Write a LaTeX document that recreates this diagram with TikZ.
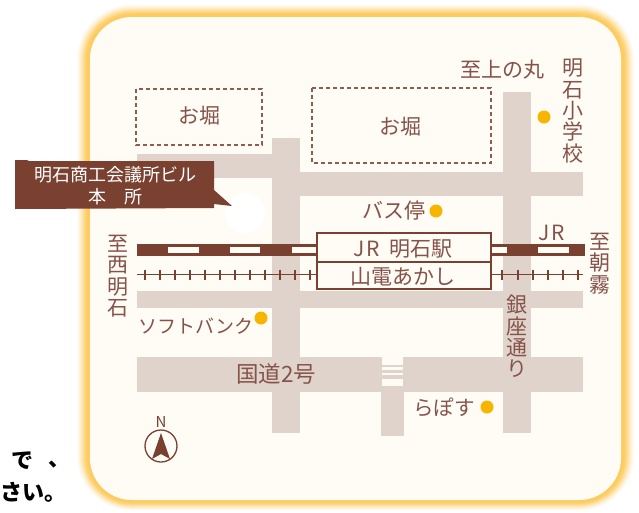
\documentclass[tikz,border=0pt]{standalone}
\usepackage{fontspec}
\setmainfont{Noto Sans CJK JP}
\definecolor{road}{HTML}{E0D3CB}
\definecolor{cream}{HTML}{FFFCF5}
\definecolor{brn}{HTML}{7A4030}
\definecolor{txt}{HTML}{85534A}
\definecolor{gold}{HTML}{FDCB5E}
\definecolor{dot}{HTML}{F8B500}
\tikzset{
  x=1pt,y=-1pt,
  lbl/.style={text=txt,inner sep=0pt,font=\fontsize{#1}{#1}\selectfont},
  lbl/.default=21,
  vlbl/.style={text=txt,inner sep=0pt,align=center,font=\fontsize{21}{21.3}\selectfont},
  spot/.style={circle,fill=dot,minimum size=13pt,inner sep=0pt},
  pond/.style={draw=brn!85,line width=1.6pt,dash pattern=on 4pt off 3pt},
  stn/.style={draw=brn,line width=2pt,fill=cream},
  railthick/.style={fill=brn},
  railgap/.style={fill=cream},
  tie/.style={draw=brn,line width=1.3pt},
  black text/.style={text=black,inner sep=0pt,font=\fontsize{22}{22}\selectfont\bfseries}
}
\begin{document}
\begin{tikzpicture}
\useasboundingbox (0,0) rectangle (639,512);
\fill[white] (0,0) rectangle (639,512);
% card glow
\foreach \o/\c in {13/6,12/14,11/22,10/30,9/40,8/52,7/64,6/74,5/84,4/92,3/97,2/100,1/100}{
  \fill[gold!\c!white,rounded corners={42pt+\o pt}] (90-\o,17-\o*0.95) rectangle (621+\o,500+\o*0.8);
}
\fill[cream,rounded corners=42pt] (90,17) rectangle (621,500);
% roads
\fill[road] (137,154) rectangle (272,178);
\fill[road] (300,172) rectangle (583,196);
\fill[road] (272,138) rectangle (300,433);
\fill[road] (503,92) rectangle (531,433);
\fill[road] (137,291) rectangle (583,308);
\fill[road] (137,357) rectangle (382,392);
\fill[road] (403,357) rectangle (583,392);
\fill[road] (381,386) rectangle (404,436);
% crosswalk
\fill[road] (382,365) rectangle (403,367);
\fill[road] (382,370) rectangle (403,372.5);
\fill[road] (382,375) rectangle (403,379);
\fill[white] (245,213) circle (20);
% ponds
\draw[pond] (136,89) rectangle (262,145);
\draw[pond] (312,88) rectangle (491,163);
\node[lbl] (p1) at (199,116) {お堀};
\node[lbl] (p2) at (400,127) {お堀};
% JR rails
\fill[railthick] (137,243.5) rectangle (317,256);
\fill[railthick] (491,243.5) rectangle (585,256);
\foreach \a/\b in {168/199,230/260,292/316,491/507,538/569}{\fill[railgap] (\a,247) rectangle (\b,253);}
% Sanyo rails
\draw[tie] (137,274.5) -- (317,274.5);
\draw[tie] (491,274.5) -- (583,274.5);
\foreach \t in {145,160,175,190,205,220,235,250,265,280,295,310,502,518,533,548,563,578}{\draw[tie] (\t,269.5) -- (\t,279.5);}
% station
\node[stn,minimum width=174pt,minimum height=29pt,inner sep=0pt] (jr) at (403.5,247.5) {};
\node[stn,minimum width=174pt,minimum height=27pt,inner sep=0pt] (sanyo) at (403.5,275.5) {};
\node[lbl] at (403,249) {J\hspace{2pt}R\hspace{.45em}明石駅};
\node[lbl] at (403,277) {山電あかし};
% callout
\fill[brn] (15,160) -- (27,160) -- (29,161) -- (214,161) -- (214,190) -- (232,206) -- (214,204) -- (214,208) -- (15,209) -- cycle;
\node[inner sep=0pt,text=white,align=center,font=\fontsize{18}{22}\selectfont] (call) at (115,186) {明石商工会議所ビル\\本\hspace{1em}所};
% labels
\node[lbl] (a) at (502,70) {至上の丸};
\node[vlbl,anchor=north] at (573,59) {明\\石\\小\\学\\校};
\node[spot] at (544,117) {};
\node[lbl,anchor=east] at (426,211) {バス停};
\node[spot] at (436,211) {};
\node[lbl] at (552,233) {J\hspace{2pt}R};
\node[vlbl,anchor=north] at (600,233) {至\\朝\\霧};
\node[vlbl,anchor=north] at (118,235) {至\\西\\明\\石};
\node[lbl=19,anchor=west] at (138,326) {ソフトバンク};
\node[spot] at (261,318) {};
\node[lbl=22.5] at (276,374) {国道2号};
\node[vlbl,anchor=north] at (517,295) {銀\\座\\通\\り};
\node[lbl=20.5,anchor=east] at (475,407) {らぽす};
\node[spot] at (487,407) {};
% compass
\node[text=brn,inner sep=0pt,font=\fontsize{15}{15}\selectfont] at (161,422) {N};
\draw[draw=brn,line width=1.3pt] (161,446) circle (16);
\fill[brn] (161,433) -- (170,459) -- (161,454) -- (152,459) -- cycle;
% black text
\node[black text] at (22,461) {で};
\node[black text] at (59,465) {、};
\node[black text,anchor=east] at (67,492) {さい。};
\end{tikzpicture}
\end{document}
